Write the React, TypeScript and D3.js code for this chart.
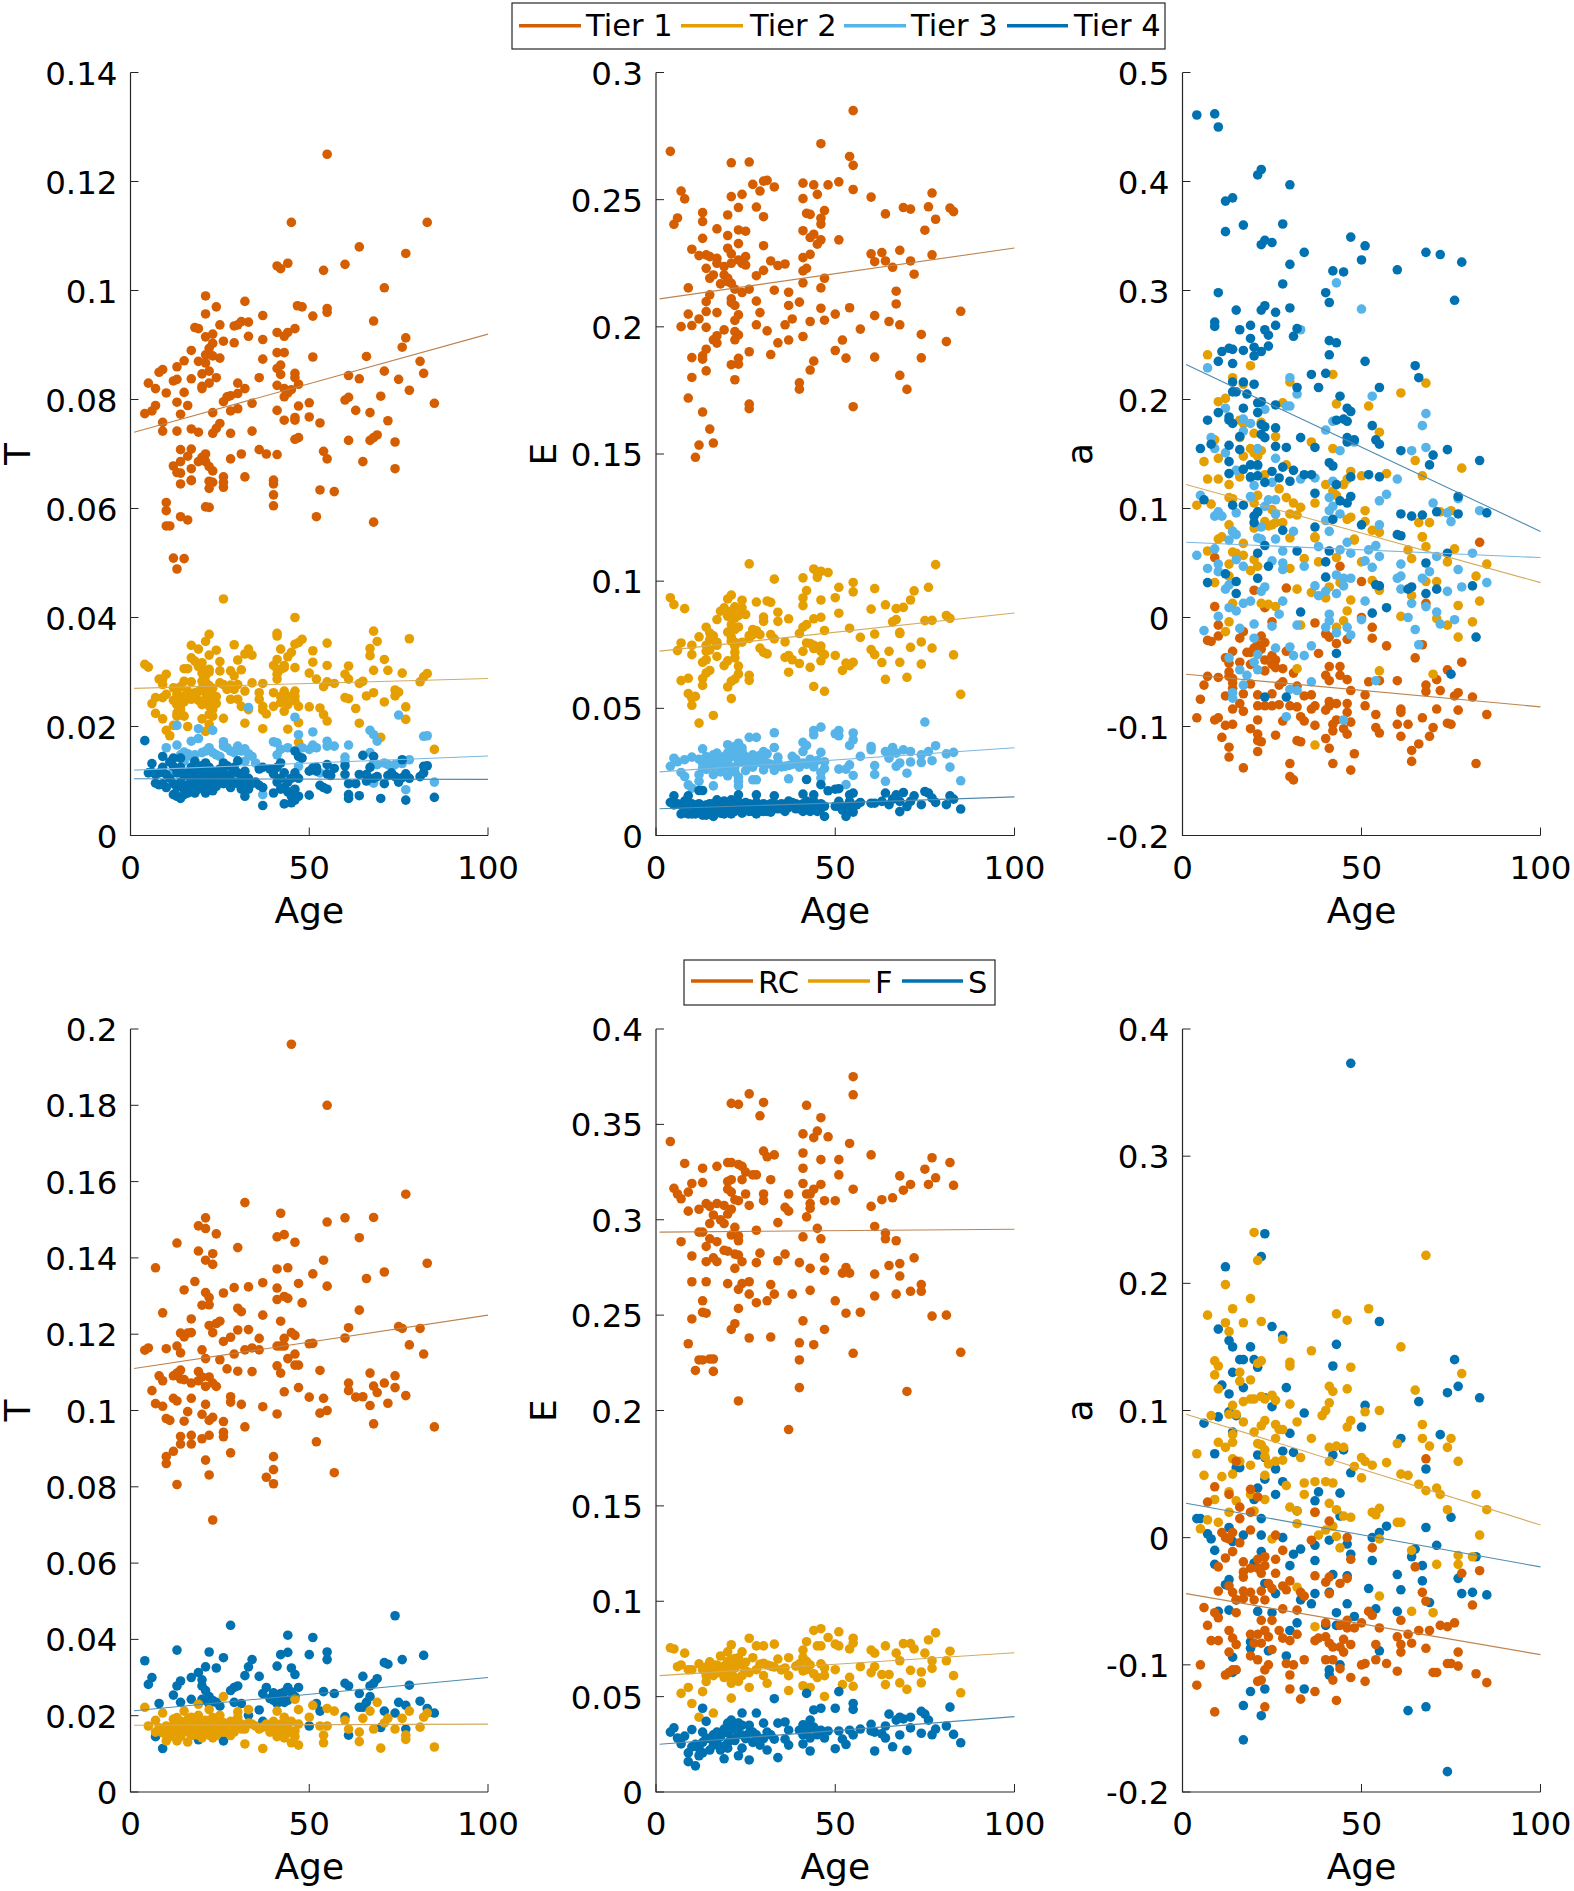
import React from "react";
import * as d3 from "d3";

type P = number[];
const tier1T: P[] = [[55,.125],[45,.1125],[83,.1125],[64,.108],[77,.1068],[44,.105],[41,.1045],[42,.104],[60,.1048],[54,.1037],[71,.1005],[21,.099],[32,.098],[24,.097],[46.7,.0972],[48,.097],[55,.0967],[55,.096],[21,.0957],[37,.0954],[51,.0953],[68,.0944],[25,.0937],[18,.0932],[19,.093],[29,.0935],[30,.0937],[31,.0943],[33,.0942],[46,.093],[44,.0923],[41,.0923],[43,.0916],[21,.0915],[23,.092],[33,.0916],[37,.091],[77,.0913],[26,.0907],[29,.0904],[23,.0903],[22,.0894],[17,.089],[21,.0882],[76,.0896],[41,.0886],[43,.0886],[51,.0878],[66,.0879],[25,.0876],[23,.088],[37,.0874],[15,.0871],[19,.087],[21,.0867],[81,.087],[42,.0863],[41,.0857],[13,.086],[9,.0855],[8,.085],[22,.0852],[20,.0847],[46,.0848],[82,.0848],[71,.0852],[42,.0846],[61,.0844],[24,.084],[17,.0838],[13,.0837],[12,.0834],[36,.084],[46,.084],[64,.0838],[75,.0837],[5,.083],[22,.083],[30,.083],[20,.0824],[47,.0828],[7,.082],[41,.0826],[20,.082],[32,.082],[43,.082],[45,.0818],[15,.0813],[10,.0812],[78,.0817],[44,.0812],[30,.0811],[28,.0807],[27,.0805],[43,.0805],[70,.0806],[61,.0804],[60,.0799],[26,.0796],[13,.0795],[50,.0794],[34,.0793],[85,.0793],[7,.0789],[16,.0789],[47,.0788],[6,.0779],[4,.0774],[30,.0783],[28,.0779],[41,.078],[63,.078],[23,.0776],[14,.0773],[67,.0776],[50,.0768],[46,.0767],[46,.0762],[43,.0762],[72,.0761],[53,.0757],[9,.0758],[9,.0742],[13,.0742],[25,.0756],[24,.0747],[23,.0738],[17,.0746],[19,.074],[28,.0738],[34,.0742],[47,.073],[46,.0727],[69,.0735],[68,.073],[67,.0725],[61,.0725],[74,.0722],[14,.0708],[17,.0709],[36,.0708],[38,.07],[54,.0705],[41,.0699],[31,.07],[21,.07],[16,.0696],[20,.0694],[55,.0691],[28,.0691],[19,.0686],[14,.0686],[65,.0686],[21,.0686],[12,.0678],[22,.0677],[17,.0673],[13,.0666],[14,.0665],[74,.0673],[23,.0669],[26,.0658],[32,.0658],[40,.0652],[17,.0652],[22,.065],[14,.0645],[17,.0651],[22,.0637],[23,.0648],[26,.0639],[26,.0648],[40,.0645],[40,.0625],[40,.0605],[53,.0634],[57,.0631],[10,.0611],[10,.0596],[21,.0603],[22,.0602],[10,.0568],[11,.0568],[14,.0585],[16,.0579],[52,.0585],[68,.0575],[12,.0509],[15,.0508],[13,.0489]];
const tier2T: P[] = [[26,.0434],[46,.04],[68,.0375],[41,.0371],[41,.0366],[22,.0369],[78,.0361],[48,.036],[69,.0356],[47,.0354],[55,.0353],[46,.0351],[29,.035],[21,.0356],[17,.0349],[19,.0342],[42,.0342],[24,.034],[51,.0339],[45,.0336],[67,.0343],[33,.0342],[32,.0333],[34,.0331],[22,.0331],[44,.0328],[67,.033],[17,.0326],[30,.0322],[71,.0323],[41,.0323],[51,.0318],[18,.032],[25,.0319],[4,.0314],[5,.0309],[55,.0312],[61,.0311],[20,.0317],[40,.0312],[43,.0308],[46,.0308],[41,.0305],[15,.0306],[16,.0306],[25,.0302],[22,.0305],[21,.0302],[31,.0304],[28,.0302],[68,.0303],[72,.0303],[76,.0298],[50,.0298],[41,.0296],[10,.0296],[60,.0296],[83,.0297],[21,.0293],[29,.0293],[82,.0291],[41,.0287],[9,.0287],[20,.0283],[52,.0287],[61,.0287],[8,.0287],[17,.0282],[15,.0283],[65,.0283],[81,.0282],[57,.0279],[55,.0282],[34,.028],[37,.0279],[9,.0277],[26,.0277],[28,.0276],[30,.0277],[64,.0279],[54,.0273],[12,.0271],[14,.0273],[27,.0268],[32,.0265],[74,.0267],[75,.0263],[21,.0262],[19,.0264],[43,.0265],[40,.0262],[46,.0265],[36,.0262],[68,.0262],[13,.0259],[74,.0256],[66,.0256],[10,.0259],[45,.0256],[15,.0256],[22,.0256],[60,.0253],[61,.0251],[9,.0253],[12,.0248],[17,.025],[28,.025],[30,.025],[36,.025],[23,.0247],[43,.025],[7,.0253],[46,.0247],[71,.0245],[6,.0242],[13,.024],[24,.0242],[20,.024],[31,.0237],[42,.0244],[37,.0237],[40,.0237],[47,.0237],[50,.0236],[77,.0236],[53,.0234],[63,.0233],[14,.0231],[23,.0231],[43,.0228],[37,.023],[33,.0231],[7,.0224],[54,.0222],[38,.0223],[13,.0219],[15,.0219],[23,.0219],[55,.021],[20,.0214],[26,.0215],[9,.0214],[77,.0213],[47,.0207],[32,.0206],[64,.0206],[16,.02],[22,.0204],[12,.0202],[37,.0196],[44,.0195],[10,.0193],[21,.0191],[11,.0183],[70,.018],[47,.0171],[85,.0158],[13,.024],[14,.025],[13,.0225],[14,.0222],[22,.0222],[22,.0238],[21,.0272],[21,.0282],[20,.0298],[19,.031],[22,.03],[13,.0265],[14,.0238],[15,.0245],[16,.0265],[18,.0262],[19,.0248],[20,.027],[21,.025],[22,.0275],[23,.027],[24,.0255],[25,.028],[29,.0268],[42,.0305],[42,.0255],[44,.024],[46,.0255],[43,.0312]];
const tier3T: P[] = [[33,.0235],[46,.0217],[75,.0221],[13,.0202],[19,.0196],[23,.0193],[51,.019],[67,.0193],[68,.0185],[47,.0185],[69,.0173],[82,.0182],[83,.0183],[17,.0173],[19,.0178],[10,.0161],[13,.0166],[26,.0172],[26,.0164],[40,.0172],[41,.017],[55,.0173],[55,.0164],[57,.0164],[61,.0166],[51,.0166],[52,.0161],[50,.0158],[48,.0161],[44,.0161],[42,.0158],[22,.0161],[27,.0161],[30,.0164],[32,.0159],[28,.0155],[29,.0152],[31,.0155],[15,.0153],[20,.0152],[21,.0155],[33,.015],[17,.0145],[60,.0144],[41,.0148],[67,.0152],[78,.0139],[71,.0133],[74,.013],[76,.0132],[72,.013],[60,.0136],[32,.0136],[15,.0136],[35,.0133],[47,.0127],[68,.0133],[12,.0121],[53,.0115],[85,.0098],[68,.0096],[37,.0075],[77,.0084],[45,.0081],[69,.013],[16,.015],[18,.0148],[23,.0152],[24,.0148],[25,.0145],[34,.0145],[14,.0148]];
const tier4T: P[] = [[4,.0174],[46,.0155],[47,.0145],[48,.0142],[65,.0147],[68,.0145],[76,.0139],[6,.0132],[9,.0145],[12,.0142],[14,.0142],[18,.0136],[21,.0133],[26,.0133],[30,.0137],[42,.0133],[60,.0128],[55,.013],[57,.0123],[83,.0128],[82,.0127],[51,.0124],[50,.0118],[5,.0115],[6,.0116],[7,.0112],[7,.0096],[8,.0115],[8,.0093],[9,.0125],[9,.0095],[10,.0112],[10,.0088],[11,.0135],[11,.0105],[12,.0127],[12,.0075],[12,.0095],[13,.0115],[13,.0088],[13,.0072],[14,.0125],[14,.0098],[14,.0068],[15,.011],[15,.0085],[15,.0075],[16,.0115],[16,.0093],[16,.0078],[17,.0125],[17,.0103],[17,.0085],[18,.011],[18,.0092],[18,.0078],[19,.012],[19,.0098],[19,.0085],[20,.0128],[20,.0105],[20,.009],[21,.0115],[21,.0095],[21,.0078],[22,.0125],[22,.0105],[22,.0088],[23,.0118],[23,.0098],[23,.0082],[24,.0108],[24,.009],[25,.0122],[25,.01],[26,.0115],[26,.0095],[27,.0128],[27,.0103],[28,.0112],[28,.0088],[29,.0125],[29,.0098],[30,.0115],[30,.0095],[31,.0108],[31,.0085],[32,.0118],[32,.0095],[32,.0072],[33,.0105],[33,.0085],[34,.0095],[35,.0098],[36,.0122],[36,.0092],[37,.0125],[37,.0088],[37,.0055],[39,.0122],[40,.0113],[40,.0078],[41,.0125],[41,.0098],[42,.0105],[42,.0085],[43,.0115],[43,.0088],[43,.0058],[44,.0098],[44,.008],[45,.0105],[45,.0072],[45,.006],[46,.0115],[46,.0085],[46,.0065],[47,.0105],[47,.0072],[50,.0074],[52,.0118],[52,.0125],[53,.0092],[54,.0088],[55,.0085],[55,.0113],[56,.011],[60,.0112],[61,.0095],[61,.0075],[61,.0068],[63,.0095],[64,.0112],[64,.0073],[66,.0112],[66,.01],[67,.0125],[68,.0105],[69,.0108],[70,.0068],[71,.0095],[72,.011],[73,.0115],[74,.0108],[75,.0098],[76,.0106],[77,.0113],[77,.0065],[78,.0105],[81,.0108],[82,.0115],[85,.007]];

const tier1E: P[] = [[55,.285],[46,.272],[4,.269],[54,.267],[55,.2635],[21,.2645],[26,.2648],[31,.2576],[30,.2573],[27,.256],[41,.2565],[44,.2558],[48,.2558],[51,.257],[33,.255],[29,.2534],[55,.254],[7,.2534],[8,.2503],[21,.2512],[24,.2521],[45,.2521],[41,.2504],[60,.251],[77,.2526],[28,.2471],[23,.2469],[69,.2469],[71,.2463],[76,.2472],[82,.2467],[83,.2453],[13,.2449],[20,.244],[42,.2446],[43,.2442],[47,.2457],[64,.2444],[30,.2433],[6,.2428],[5,.2403],[13,.2414],[46,.2427],[46,.2404],[78,.2423],[17,.2385],[23,.2381],[25,.2376],[41,.2378],[75,.238],[44,.2364],[20,.2359],[43,.2351],[46,.2342],[51,.2342],[13,.2348],[45,.2325],[23,.2327],[30,.2319],[20,.2309],[10,.2305],[68,.2301],[60,.2287],[63,.2292],[43,.2285],[77,.2283],[12,.228],[14,.2283],[15,.2276],[17,.2269],[21,.2287],[25,.2276],[41,.2272],[23,.2263],[61,.2256],[64,.2259],[71,.2259],[32,.2259],[17,.225],[21,.225],[24,.225],[25,.2243],[34,.2241],[36,.2247],[66,.2234],[19,.2237],[14,.223],[42,.223],[41,.222],[30,.2222],[16,.2204],[15,.2191],[19,.2204],[28,.2201],[72,.2207],[47,.2191],[20,.2191],[20,.2178],[18,.2169],[21,.2171],[41,.2173],[46,.2153],[9,.2153],[22,.2148],[26,.2148],[33,.2144],[24,.2135],[37,.2136],[15,.2126],[67,.214],[21,.211],[14,.2099],[28,.2101],[40,.2097],[21,.2095],[67,.209],[22,.2084],[37,.2084],[46,.2073],[54,.2075],[14,.206],[17,.2056],[29,.2056],[9,.205],[23,.2047],[50,.205],[61,.2044],[85,.2061],[12,.2031],[22,.2025],[38,.2031],[43,.2021],[47,.2026],[65,.2021],[7,.2001],[10,.2005],[14,.1998],[28,.2008],[36,.2008],[68,.2008],[19,.1988],[31,.1984],[57,.1991],[22,.1981],[23,.1968],[17,.1965],[41,.1962],[74,.197],[22,.1949],[16,.1949],[37,.1948],[52,.1948],[81,.1942],[17,.1936],[34,.1937],[14,.1912],[26,.1902],[50,.1907],[13,.1886],[32,.1891],[10,.1879],[61,.1881],[53,.1877],[13,.1873],[74,.1878],[23,.1876],[44,.1865],[21,.1851],[23,.1853],[14,.1827],[43,.183],[10,.1801],[68,.1809],[22,.1792],[40,.178],[40,.1755],[70,.1754],[9,.172],[26,.1696],[26,.1678],[55,.1686],[13,.1665],[15,.1598],[12,.1535],[16,.1543],[11,.1487]];
const tier2E: P[] = [[26,.1068],[78,.1065],[44,.1048],[45,.1033],[46,.1039],[48,.1034],[45,.1015],[33,.1008],[41,.1013],[55,.0995],[51,.0976],[55,.0958],[61,.0971],[76,.0976],[42,.0963],[72,.0962],[21,.0945],[20,.093],[4,.0935],[41,.0934],[50,.0935],[24,.0925],[28,.0918],[31,.0922],[32,.0917],[46,.0926],[71,.0926],[5,.0908],[41,.0904],[64,.0907],[8,.0892],[67,.0892],[69,.0897],[60,.089],[19,.0895],[22,.0899],[24,.0895],[18,.0882],[21,.0882],[34,.0878],[51,.0874],[25,.0869],[23,.0865],[17,.0849],[20,.0862],[22,.0855],[30,.0859],[37,.0852],[44,.0852],[46,.0858],[81,.0865],[82,.0854],[34,.0842],[30,.0842],[67,.0849],[66,.084],[75,.0845],[77,.0846],[21,.0829],[14,.0819],[42,.0829],[41,.0819],[54,.0815],[47,.0806],[22,.081],[27,.081],[40,.0794],[68,.0799],[61,.0792],[15,.0796],[29,.079],[26,.0786],[32,.079],[12,.0781],[33,.0773],[57,.0779],[68,.0794],[16,.0768],[21,.0764],[24,.076],[7,.0757],[36,.0761],[42,.0757],[74,.0761],[10,.0748],[14,.0748],[17,.0748],[22,.0744],[44,.0748],[71,.074],[77,.0737],[29,.0737],[6,.0727],[14,.0724],[60,.0731],[41,.0724],[22,.072],[30,.072],[46,.0724],[65,.0724],[61,.0711],[10,.0711],[31,.0714],[50,.0708],[83,.071],[17,.0704],[36,.07],[37,.0708],[47,.0711],[14,.0691],[22,.0698],[38,.0691],[20,.0687],[46,.0687],[55,.0681],[68,.0681],[63,.068],[23,.0666],[40,.0676],[13,.0681],[53,.0678],[19,.0668],[74,.0674],[43,.0661],[54,.0668],[15,.0649],[52,.0649],[37,.0642],[23,.0635],[14,.0639],[26,.063],[70,.0622],[9,.0618],[64,.0614],[7,.0609],[13,.0617],[22,.0615],[26,.061],[21,.0606],[13,.059],[20,.0584],[44,.0586],[47,.0567],[9,.0558],[11,.0547],[85,.0555],[21,.0538],[10,.054],[10,.0512],[16,.0472],[12,.0442],[15,.077],[16,.0785],[17,.076],[15,.073],[21,.078],[22,.076],[23,.082],[20,.08],[43,.0755],[44,.0735],[45,.074],[46,.0745],[26,.0775],[27,.079],[28,.0805]];
const tier3E: P[] = [[75,.0446],[46,.0426],[44,.0413],[44,.0396],[33,.0404],[51,.0413],[50,.04],[51,.0392],[55,.0403],[55,.0376],[54,.0354],[26,.0386],[28,.0386],[41,.0366],[42,.0354],[78,.0353],[60,.035],[60,.0337],[20,.0357],[23,.0363],[21,.0344],[22,.035],[24,.0344],[13,.0341],[33,.0346],[66,.0346],[64,.033],[69,.0337],[71,.033],[76,.033],[81,.0321],[83,.0327],[46,.0327],[41,.033],[66,.0328],[31,.0321],[67,.0324],[74,.0317],[27,.0317],[17,.0324],[57,.0311],[16,.0317],[34,.0308],[38,.0311],[10,.0308],[5,.0304],[8,.0298],[65,.0304],[43,.03],[45,.0295],[77,.0294],[71,.0289],[74,.0287],[23,.0291],[20,.0287],[29,.0287],[34,.0287],[13,.0285],[61,.0275],[54,.0278],[68,.0285],[67,.0272],[82,.0269],[4,.0272],[40,.0269],[16,.0272],[19,.0269],[22,.0269],[36,.0272],[27,.0269],[47,.0264],[51,.0261],[53,.0261],[30,.0258],[33,.0256],[7,.0248],[70,.0245],[61,.024],[46,.0248],[55,.0236],[12,.0239],[16,.0239],[20,.0235],[23,.023],[8,.0232],[37,.0223],[46,.0226],[27,.0219],[28,.0219],[64,.0213],[85,.0215],[12,.0213],[23,.0213],[9,.0199],[16,.0195],[53,.02],[23,.0195],[10,.0186],[6,.029],[12,.03],[14,.031],[15,.029],[18,.03],[21,.031],[24,.029],[25,.031],[26,.028],[28,.03],[30,.03],[32,.028],[35,.027],[38,.028],[39,.03],[42,.028],[44,.027],[14,.026],[18,.025],[21,.026],[22,.025],[13,.0265],[17,.0285],[19,.031],[20,.0325],[22,.0325],[23,.0315],[24,.033],[25,.0255],[26,.0305],[29,.0315],[30,.033],[31,.0285],[37,.0275],[41,.0285],[47,.029]];
const tier4E: P[] = [[42,.022],[46,.02],[48,.0176],[50,.0182],[51,.0184],[12,.0177],[13,.0177],[55,.0167],[54,.016],[5,.0156],[75,.0173],[76,.0167],[64,.0167],[69,.0169],[67,.016],[23,.016],[41,.0163],[44,.016],[33,.0156],[28,.016],[9,.0156],[72,.0156],[77,.0147],[82,.0156],[83,.0143],[78,.013],[57,.013],[60,.0127],[61,.0127],[63,.0134],[51,.0134],[54,.0134],[68,.0134],[71,.0134],[66,.0143],[74,.0121],[81,.0121],[65,.0121],[70,.0114],[68,.0094],[55,.0092],[53,.0075],[54,.0101],[85,.0104],[47,.0075],[4,.013],[5,.012],[6,.0125],[7,.0085],[7,.012],[8,.009],[8,.0135],[9,.0085],[9,.012],[10,.0085],[10,.0125],[11,.0085],[12,.0125],[12,.0095],[13,.008],[14,.012],[14,.01],[14,.008],[15,.0125],[15,.009],[16,.0075],[16,.0105],[17,.014],[17,.01],[18,.0125],[18,.0088],[19,.0135],[19,.0105],[19,.0085],[20,.0125],[20,.0095],[21,.014],[21,.0108],[21,.0085],[22,.0125],[22,.0095],[23,.013],[23,.01],[24,.012],[24,.0088],[25,.013],[25,.0098],[26,.0125],[26,.0095],[27,.0115],[28,.0085],[28,.013],[29,.0115],[30,.0125],[30,.0095],[31,.0115],[32,.0125],[32,.0092],[33,.0125],[34,.0105],[35,.0125],[36,.0115],[36,.0095],[37,.0135],[38,.013],[39,.0125],[40,.0105],[41,.0125],[41,.0095],[42,.0135],[42,.011],[43,.0125],[43,.0095],[44,.0135],[45,.0115],[45,.0095],[46,.0125],[47,.0115],[50,.0115],[51,.0115],[52,.01],[53,.0115],[55,.0115],[56,.012],[11,.011],[13,.0105],[15,.0105],[16,.0125],[18,.0105],[20,.011],[22,.011],[24,.0105],[27,.0095],[29,.0095],[31,.0095],[33,.0105],[35,.0105],[37,.011],[39,.0105],[44,.0115],[46,.0105]];

const tier1A: P[] = [[83,.069],[9,.055],[44,.047],[50,.033],[29,.027],[20,.025],[9,.01],[68,.013],[23,.009],[50,0],[10,-.007],[37,-.005],[53,-.009],[25,-.004],[10,-.017],[17,-.013],[16,-.019],[7,-.021],[8,-.022],[22,-.017],[40,-.015],[41,-.018],[53,-.019],[46,-.02],[43,-.024],[57,-.026],[67,-.025],[23,-.023],[21,-.025],[20,-.028],[19,-.032],[18,-.032],[14,-.031],[29,-.031],[38,-.033],[22,-.029],[25,-.035],[12,-.037],[13,-.042],[16,-.041],[23,-.039],[26,-.039],[65,-.037],[19,-.043],[25,-.043],[41,-.045],[44,-.045],[78,-.041],[23,-.049],[26,-.046],[28,-.047],[31,-.051],[13,-.05],[74,-.048],[7,-.054],[10,-.055],[13,-.054],[14,-.056],[40,-.053],[44,-.053],[46,-.057],[71,-.057],[68,-.062],[14,-.06],[19,-.061],[41,-.058],[52,-.059],[55,-.058],[60,-.058],[28,-.059],[27,-.062],[6,-.062],[14,-.065],[32,-.063],[47,-.067],[72,-.067],[68,-.068],[12,-.072],[17,-.07],[21,-.071],[25,-.07],[34,-.072],[36,-.071],[51,-.071],[77,-.069],[76,-.072],[81,-.073],[5,-.075],[16,-.079],[46,-.079],[41,-.077],[43,-.079],[21,-.081],[23,-.081],[25,-.081],[27,-.08],[30,-.081],[32,-.082],[37,-.081],[36,-.084],[40,-.085],[41,-.081],[51,-.081],[14,-.084],[17,-.086],[46,-.087],[61,-.084],[71,-.084],[77,-.085],[54,-.089],[61,-.087],[4,-.092],[85,-.089],[10,-.092],[33,-.091],[9,-.094],[34,-.095],[21,-.094],[43,-.094],[67,-.092],[28,-.095],[47,-.096],[12,-.099],[14,-.098],[42,-.098],[37,-.099],[60,-.098],[63,-.098],[74,-.097],[75,-.098],[70,-.101],[19,-.102],[42,-.104],[45,-.102],[54,-.101],[55,-.106],[21,-.107],[46,-.107],[11,-.11],[26,-.108],[61,-.109],[40,-.111],[69,-.109],[21,-.113],[22,-.114],[32,-.113],[33,-.114],[66,-.116],[13,-.119],[41,-.12],[21,-.123],[64,-.122],[48,-.125],[13,-.128],[64,-.132],[30,-.134],[42,-.134],[82,-.134],[17,-.138],[47,-.14],[30,-.146],[31,-.149]];
const tier2A: P[] = [[7,.241],[19,.231],[14,.22],[42,.223],[30,.216],[68,.215],[17,.214],[61,.206],[12,.201],[10,.198],[28,.197],[43,.196],[52,.194],[16,.181],[17,.178],[22,.179],[20,.169],[55,.17],[9,.163],[26,.166],[36,.161],[16,.165],[42,.155],[19,.155],[20,.151],[22,.153],[21,.148],[17,.148],[10,.146],[65,.144],[6,.143],[78,.137],[29,.14],[47,.134],[50,.13],[57,.132],[7,.127],[10,.127],[16,.129],[23,.131],[67,.13],[46,.127],[13,.122],[40,.122],[45,.122],[27,.118],[42,.116],[43,.112],[21,.112],[29,.11],[13,.11],[14,.109],[8,.104],[4,.103],[37,.105],[31,.105],[33,.101],[20,.105],[51,.098],[25,.099],[26,.095],[30,.095],[32,.094],[75,.098],[72,.097],[47,.092],[46,.09],[66,.087],[69,.087],[23,.088],[13,.085],[25,.085],[28,.087],[26,.087],[51,.088],[24,.084],[20,.082],[53,.08],[55,.078],[11,.074],[67,.074],[37,.074],[30,.073],[48,.072],[10,.072],[37,.073],[67,.074],[48,.071],[68,.065],[7,.061],[17,.068],[76,.063],[63,.062],[14,.06],[15,.059],[17,.057],[13,.049],[20,.053],[34,.054],[43,.055],[64,.054],[21,.047],[38,.051],[85,.049],[74,.051],[19,.043],[50,.051],[30,.045],[13,.038],[82,.038],[9,.032],[53,.034],[68,.033],[71,.033],[44,.032],[32,.026],[41,.028],[55,.025],[36,.023],[40,.018],[64,.02],[47,.016],[22,.013],[24,.012],[26,.01],[14,.013],[83,.015],[77,.011],[46,.006],[45,-.003],[61,.001],[13,-.004],[71,-.001],[33,-.007],[74,-.007],[81,-.004],[43,-.009],[12,-.013],[77,-.018],[70,-.052],[32,-.047],[55,-.049],[37,-.117]];
const tier3A: P[] = [[43,.307],[50,.283],[33,.264],[7,.229],[30,.22],[32,.205],[53,.203],[12,.192],[23,.191],[29,.194],[30,.194],[68,.187],[17,.182],[19,.178],[42,.18],[67,.176],[40,.172],[17,.171],[8,.165],[48,.161],[9,.155],[21,.155],[44,.153],[64,.153],[68,.156],[12,.151],[26,.146],[15,.135],[21,.139],[33,.127],[37,.128],[60,.127],[19,.128],[42,.125],[25,.124],[20,.121],[19,.111],[5,.112],[57,.113],[41,.11],[24,.108],[26,.108],[55,.107],[23,.102],[42,.102],[70,.105],[41,.098],[15,.096],[10,.097],[9,.093],[11,.093],[44,.095],[74,.096],[83,.098],[77,.109],[21,.097],[26,.095],[40,.089],[75,.088],[22,.083],[55,.085],[31,.079],[41,.079],[14,.079],[15,.076],[14,.079],[21,.073],[13,.071],[46,.069],[26,.072],[22,.072],[54,.066],[52,.062],[9,.063],[38,.065],[44,.062],[28,.061],[47,.059],[4,.057],[81,.059],[55,.056],[71,.056],[15,.053],[51,.052],[25,.052],[61,.049],[10,.049],[28,.05],[17,.047],[34,.047],[7,.045],[53,.046],[28,.044],[77,.044],[10,.042],[69,.042],[43,.039],[60,.036],[61,.038],[67,.036],[47,.036],[45,.036],[13,.03],[85,.032],[37,.029],[23,.028],[12,.026],[78,.028],[45,.029],[22,.024],[74,.024],[40,.024],[43,.022],[38,.02],[61,.026],[17,.013],[51,.015],[19,.015],[28,.015],[64,.013],[68,.01],[13,.009],[15,.006],[71,.005],[27,.003],[10,.001],[41,.003],[63,0],[50,-.002],[76,-.002],[20,-.006],[41,-.003],[32,-.007],[25,-.008],[40,-.009],[16,-.01],[6,-.012],[72,-.006],[46,-.009],[65,-.011],[43,-.014],[47,-.016],[20,-.019],[36,-.026],[30,-.027],[26,-.028],[66,-.025],[31,-.035],[34,-.035],[13,-.037],[21,-.034],[20,-.041],[21,-.048],[16,-.048],[18,-.053],[36,-.059],[54,-.058],[17,-.062],[30,-.066],[32,-.067],[14,-.069],[14,-.074],[29,-.091],[45,-.094]];
const tier4A: P[] = [[4,.461],[9,.462],[10,.45],[22,.411],[21,.406],[30,.397],[14,.385],[12,.382],[28,.361],[17,.36],[12,.354],[47,.349],[23,.346],[25,.344],[22,.342],[51,.341],[34,.335],[68,.335],[72,.333],[78,.326],[50,.328],[30,.324],[42,.318],[45,.317],[60,.319],[28,.306],[40,.298],[10,.298],[76,.291],[41,.289],[23,.286],[22,.282],[15,.282],[30,.284],[26,.28],[9,.271],[9,.267],[19,.268],[26,.268],[16,.264],[23,.264],[32,.265],[24,.259],[31,.258],[19,.256],[41,.254],[43,.252],[20,.248],[24,.249],[13,.247],[11,.244],[14,.246],[17,.245],[22,.244],[20,.24],[41,.241],[10,.235],[51,.235],[14,.233],[65,.231],[40,.224],[36,.223],[66,.22],[14,.216],[17,.216],[20,.214],[32,.211],[38,.211],[55,.211],[15,.207],[14,.207],[18,.205],[44,.203],[21,.197],[22,.198],[26,.195],[17,.192],[46,.192],[47,.189],[10,.188],[21,.188],[13,.184],[7,.181],[13,.181],[43,.181],[45,.182],[46,.18],[14,.178],[22,.177],[23,.175],[53,.176],[26,.174],[22,.168],[16,.166],[23,.165],[33,.165],[46,.165],[48,.163],[46,.161],[54,.163],[55,.159],[8,.159],[13,.158],[26,.157],[5,.155],[16,.154],[29,.156],[37,.156],[61,.153],[74,.154],[70,.149],[13,.143],[41,.142],[42,.139],[69,.14],[83,.144],[19,.14],[21,.14],[28,.138],[17,.136],[31,.135],[25,.134],[13,.132],[19,.129],[21,.13],[34,.131],[36,.131],[47,.129],[52,.131],[55,.129],[27,.128],[30,.125],[23,.124],[43,.122],[37,.114],[77,.111],[47,.111],[44,.107],[46,.105],[6,.108],[14,.103],[17,.103],[21,.097],[20,.093],[20,.087],[61,.095],[64,.093],[67,.094],[71,.097],[77,.095],[85,.096],[42,.09],[50,.085],[37,.083],[28,.08],[60,.076],[61,.075],[23,.066],[32,.061],[21,.059],[74,.059],[41,.061],[40,.051],[24,.047],[68,.05],[40,.037],[12,.04],[21,.036],[15,.033],[7,.032],[54,.03],[55,.029],[64,.028],[63,.026],[71,.026],[81,.029],[68,.022],[15,.022],[33,.005],[57,.009],[53,.004],[43,-.033],[82,-.018],[75,-.052],[23,-.073],[29,-.073]];

const rcT: P[] = [[45,.196],[55,.18],[77,.1567],[32,.1545],[42,.1517],[21,.1505],[60,.1505],[68,.1506],[55,.1494],[19,.1484],[21,.1477],[24,.1463],[41,.1455],[43,.1461],[64,.1453],[13,.1439],[46,.1441],[30,.1427],[19,.1418],[23,.1411],[21,.1394],[54,.1394],[23,.1383],[83,.1386],[7,.1374],[41,.1371],[44,.1374],[71,.1363],[51,.1358],[66,.1346],[18,.1338],[37,.1335],[47,.1333],[29,.1322],[33,.1324],[41,.1321],[55,.1326],[15,.1316],[21,.1309],[26,.1308],[22,.1296],[43,.1299],[41,.1291],[44,.1294],[20,.1276],[22,.1277],[48,.1282],[30,.1268],[31,.1259],[64,.1263],[9,.1256],[37,.125],[17,.124],[25,.1234],[42,.1234],[22,.1223],[24,.1228],[33,.1212],[61,.1217],[75,.122],[76,.1215],[81,.1215],[14,.1203],[16,.1203],[17,.1204],[30,.1211],[45,.1204],[15,.1193],[23,.1204],[28,.1192],[36,.1189],[43,.1189],[46,.1197],[60,.119],[26,.1181],[42,.1169],[50,.1175],[51,.1176],[43,.1169],[41,.1169],[78,.1172],[4,.1158],[5,.1164],[10,.1162],[13,.1169],[20,.1159],[32,.1159],[34,.1164],[36,.1159],[14,.1151],[29,.1148],[46,.1148],[21,.1136],[25,.1133],[44,.1136],[82,.1148],[41,.1117],[47,.1119],[46,.1119],[27,.1109],[42,.1098],[30,.1103],[34,.1102],[53,.1105],[14,.1106],[67,.1098],[13,.1098],[12,.1091],[19,.1102],[8,.1091],[20,.1088],[74,.1091],[22,.1088],[14,.1083],[15,.1081],[9,.1078],[17,.1072],[19,.1078],[23,.1072],[61,.1072],[71,.1072],[24,.1063],[21,.1063],[47,.106],[68,.1064],[74,.106],[43,.1049],[61,.1052],[69,.1047],[6,.1052],[63,.1035],[65,.1036],[50,.1035],[54,.1032],[77,.1039],[12,.1032],[13,.1025],[17,.1032],[28,.1036],[28,.1022],[31,.1016],[7,.1018],[9,.1011],[21,.1016],[37,.101],[72,.1019],[67,.1013],[16,.0997],[55,.1],[53,.0993],[41,.0991],[20,.099],[10,.0979],[11,.0974],[23,.0982],[22,.0974],[15,.0972],[26,.0971],[68,.0965],[32,.0957],[85,.0957],[26,.0943],[22,.0935],[20,.0926],[14,.0932],[17,.0935],[26,.0931],[52,.0918],[14,.0912],[17,.0912],[12,.0893],[28,.0889],[40,.0879],[10,.0879],[21,.087],[10,.0861],[40,.0845],[22,.0831],[57,.0837],[38,.0825],[40,.0808],[13,.0806],[23,.0713]];
const fT: P[] = [[4,.0222],[26,.025],[46,.0243],[69,.0235],[19,.023],[51,.0227],[22,.0216],[15,.0212],[9,.0207],[25,.0201],[30,.021],[33,.0216],[55,.0219],[57,.0212],[67,.0212],[78,.0212],[47,.0216],[83,.0207],[41,.0212],[12,.0191],[17,.0196],[19,.0201],[72,.0193],[65,.0193],[60,.0188],[50,.0196],[43,.0196],[82,.0196],[76,.0193],[7,.0188],[14,.0185],[21,.0188],[28,.0185],[33,.0181],[40,.0185],[71,.0181],[47,.0178],[5,.0173],[10,.0173],[16,.0173],[23,.0173],[30,.0173],[37,.017],[44,.0173],[53,.0173],[55,.0173],[61,.0165],[68,.0165],[74,.0165],[81,.017],[7,.0157],[12,.0157],[19,.0149],[22,.0149],[26,.0157],[42,.0157],[46,.016],[54,.0149],[64,.0157],[77,.0149],[10,.0134],[13,.0134],[16,.0131],[20,.0142],[23,.0142],[32,.0126],[45,.0129],[47,.0123],[54,.0129],[64,.0132],[77,.0138],[37,.0114],[70,.0115],[85,.0118],[11,.0165],[15,.0157],[18,.0165],[20,.0165],[24,.0165],[27,.0173],[29,.0157],[35,.0173],[36,.0165],[39,.0157],[41,.0165],[43,.0142],[8,.0168],[9,.0155],[11,.0145],[14,.0145],[17,.0148],[18,.0182],[21,.0155],[22,.0178],[24,.0148],[25,.0178],[28,.0165],[31,.0178],[31,.0165],[34,.0178],[41,.0145],[44,.0155],[12,.0175],[13,.0195],[14,.0165],[15,.0178],[16,.019],[17,.0165],[18,.015],[19,.0175],[20,.0185],[21,.0172],[22,.016],[23,.0195],[24,.0182],[26,.0182],[27,.0158],[28,.0148],[29,.0182],[30,.0195],[32,.0165],[38,.0178],[40,.0172],[42,.0178],[43,.0175],[45,.0185],[46,.0145]];
const sT: P[] = [[74,.0462],[28,.0437],[44,.0411],[51,.0405],[22,.0367],[13,.0372],[44,.0366],[42,.036],[50,.036],[55,.0367],[55,.0347],[82,.0358],[4,.0344],[26,.0352],[76,.0347],[34,.0347],[71,.0339],[72,.0335],[21,.0328],[33,.0328],[41,.033],[24,.0325],[45,.0325],[19,.0313],[32,.0305],[46,.0308],[65,.0303],[6,.03],[17,.03],[36,.0303],[20,.0294],[14,.0291],[69,.0297],[13,.0278],[5,.0282],[60,.0285],[61,.0278],[78,.028],[20,.0278],[68,.0285],[67,.0278],[30,.0278],[38,.0274],[28,.0266],[44,.0274],[47,.0274],[21,.0266],[29,.0274],[12,.0254],[37,.0258],[57,.0258],[64,.0258],[54,.0263],[42,.0258],[22,.025],[17,.0243],[20,.0243],[46,.025],[67,.025],[14,.0235],[8,.0232],[31,.0232],[66,.0235],[41,.0232],[43,.0235],[75,.0235],[81,.0238],[52,.0232],[77,.0227],[64,.0222],[65,.0222],[83,.0219],[36,.0215],[53,.0212],[71,.0212],[74,.0207],[85,.0207],[60,.0197],[33,.0201],[37,.0185],[70,.0169],[50,.0173],[77,.0165],[7,.0145],[19,.0137],[26,.0134],[61,.0149],[9,.0114],[41,.025],[42,.0245],[44,.024],[40,.026],[21,.024],[22,.023],[23,.024],[24,.0235],[25,.0225],[29,.0235],[39,.0245],[40,.024],[43,.0262],[45,.0262]];

const rcE: P[] = [[55,.375],[55,.3655],[26,.366],[30,.3615],[21,.361],[23,.3605],[42,.36],[29,.3545],[46,.3535],[45,.3465],[41,.345],[44,.343],[48,.3435],[4,.341],[54,.34],[30,.336],[33,.334],[41,.335],[60,.334],[31,.333],[77,.3325],[46,.3315],[51,.3315],[8,.3295],[20,.33],[21,.33],[82,.33],[13,.327],[17,.328],[23,.329],[24,.328],[41,.327],[75,.3265],[25,.325],[27,.3235],[28,.3235],[51,.3235],[68,.323],[20,.32],[21,.321],[24,.321],[32,.321],[78,.322],[10,.319],[13,.3195],[41,.319],[46,.3185],[76,.3185],[71,.3185],[83,.318],[5,.3165],[55,.316],[20,.316],[44,.316],[69,.3155],[9,.3145],[6,.3135],[21,.3145],[42,.3135],[43,.3135],[30,.3135],[37,.3135],[7,.311],[63,.3105],[66,.3115],[22,.3105],[47,.31],[50,.31],[30,.31],[25,.3135],[23,.31],[14,.3085],[17,.3085],[43,.3085],[26,.3075],[36,.3065],[60,.307],[15,.307],[19,.3075],[43,.306],[12,.3055],[37,.3045],[9,.3045],[21,.3055],[16,.3025],[20,.303],[42,.3015],[18,.3],[15,.298],[19,.298],[34,.2985],[22,.296],[61,.2965],[45,.2955],[28,.2945],[13,.2935],[12,.2935],[21,.292],[64,.293],[23,.2915],[41,.291],[64,.29],[46,.29],[15,.29],[17,.2885],[67,.289],[7,.2885],[23,.289],[14,.286],[19,.284],[20,.2835],[29,.2825],[36,.282],[22,.282],[10,.281],[23,.2815],[47,.28],[72,.28],[16,.28],[34,.2785],[14,.278],[17,.278],[40,.2775],[28,.2775],[68,.277],[24,.278],[65,.276],[43,.2745],[53,.275],[22,.2745],[47,.2735],[52,.272],[54,.272],[61,.2715],[68,.2705],[10,.2675],[14,.2675],[20,.2665],[26,.2675],[24,.2665],[32,.266],[74,.266],[23,.2635],[43,.263],[71,.2625],[74,.2625],[26,.261],[33,.261],[38,.261],[67,.261],[61,.26],[31,.2575],[28,.2565],[13,.2575],[50,.2575],[23,.2535],[13,.2515],[14,.251],[53,.251],[57,.2515],[77,.2495],[81,.25],[10,.248],[41,.247],[22,.2455],[21,.2425],[47,.2425],[32,.2385],[26,.238],[9,.235],[40,.2355],[44,.2345],[55,.23],[85,.2305],[16,.227],[12,.2265],[13,.2265],[15,.227],[40,.2265],[11,.221],[16,.2205],[40,.212],[70,.21],[23,.205],[37,.19]];
const fE: P[] = [[46,.0856],[44,.0847],[51,.084],[78,.0834],[48,.081],[26,.0806],[55,.0806],[42,.0788],[76,.0797],[21,.0772],[33,.0775],[28,.0766],[50,.0775],[51,.0766],[55,.0781],[69,.0778],[71,.0778],[4,.0756],[5,.075],[30,.0766],[45,.0766],[46,.0766],[60,.0744],[64,.0766],[72,.075],[54,.075],[8,.0728],[20,.0735],[24,.0735],[61,.0728],[75,.0728],[82,.0738],[41,.0744],[67,.0728],[18,.0713],[23,.0704],[37,.0704],[41,.0704],[27,.0704],[34,.0697],[21,.0694],[68,.0688],[77,.0688],[81,.0688],[7,.0666],[12,.0672],[15,.0682],[40,.0672],[6,.0657],[17,.0666],[43,.0666],[31,.0666],[20,.0657],[57,.0657],[46,.0672],[9,.0641],[10,.0641],[13,.0641],[22,.065],[28,.0641],[36,.065],[42,.0641],[47,.065],[50,.0641],[71,.0638],[77,.0648],[74,.0629],[16,.061],[20,.061],[60,.0626],[61,.0657],[63,.0616],[65,.0616],[26,.0626],[83,.061],[37,.061],[47,.061],[14,.061],[54,.0601],[64,.0563],[55,.0554],[14,.0579],[31,.057],[74,.0572],[68,.0572],[52,.0563],[21,.057],[26,.0548],[41,.0557],[43,.0548],[37,.0532],[70,.0538],[9,.0548],[7,.0517],[13,.0526],[47,.0501],[85,.052],[21,.0492],[10,.0464],[16,.0414],[12,.0392],[23,.058],[24,.061],[30,.061],[15,.065],[18,.063],[19,.066],[22,.07],[23,.067],[25,.068],[29,.067],[32,.066],[35,.064],[39,.066],[44,.062],[45,.06],[14,.0655],[16,.0665],[17,.0625],[19,.06],[20,.0685],[21,.0635],[22,.06],[24,.0665],[25,.0635],[30,.0675],[33,.0655],[41,.0635],[42,.0685]];
const sE: P[] = [[42,.0517],[51,.0526],[33,.0489],[13,.0439],[46,.0439],[44,.043],[50,.0439],[55,.0464],[55,.0433],[82,.0445],[28,.0414],[24,.0414],[65,.0408],[74,.0423],[75,.0408],[43,.0377],[14,.037],[68,.0392],[67,.0377],[69,.0383],[71,.0392],[76,.0377],[21,.0377],[23,.0361],[20,.0361],[30,.0361],[34,.0361],[36,.0367],[41,.0352],[60,.0355],[5,.0336],[4,.0314],[10,.0327],[13,.0314],[17,.0314],[19,.033],[22,.033],[27,.0314],[31,.0314],[37,.0324],[40,.0324],[44,.033],[46,.0324],[48,.032],[51,.032],[54,.0324],[57,.033],[64,.0346],[71,.0336],[74,.0308],[77,.03],[78,.033],[81,.0346],[61,.0314],[63,.0305],[6,.0283],[8,.0293],[14,.0283],[21,.0283],[24,.0299],[28,.0277],[33,.0277],[36,.0277],[41,.0299],[43,.0283],[47,.0283],[55,.0299],[60,.032],[64,.0283],[68,.0299],[83,.0302],[52,.0277],[7,.0252],[16,.0246],[20,.0258],[29,.0246],[37,.0246],[41,.0252],[53,.0249],[66,.0237],[85,.0258],[10,.0237],[9,.0205],[13,.0205],[19,.0174],[26,.0168],[34,.018],[23,.019],[50,.0227],[61,.0215],[43,.0215],[70,.0218],[11,.0137],[9,.0159],[31,.022],[15,.022],[12,.019],[15,.028],[17,.026],[18,.029],[19,.024],[20,.031],[21,.033],[22,.027],[23,.031],[24,.023],[25,.028],[26,.031],[27,.026],[28,.03],[30,.028],[32,.03],[42,.032],[44,.034],[45,.03],[11,.025],[12,.023],[13,.026],[16,.03],[18,.022],[20,.023],[22,.034],[23,.036],[24,.035],[26,.035],[42,.035],[43,.033]];

const rcA: P[] = [[68,.062],[15,.06],[9,.04],[19,.038],[13,.034],[21,.032],[7,.028],[16,.024],[19,.02],[37,.02],[16,.015],[41,.013],[11,.004],[19,.006],[14,.004],[12,0],[13,-.001],[16,-.004],[26,.002],[36,-.002],[46,0],[28,-.01],[14,-.011],[53,-.008],[23,-.015],[12,-.016],[21,-.017],[47,-.017],[26,-.017],[17,-.019],[10,-.023],[19,-.024],[21,-.024],[23,-.022],[65,-.023],[17,-.027],[26,-.028],[22,-.028],[78,-.028],[83,-.026],[37,-.03],[17,-.031],[41,-.031],[40,-.035],[46,-.032],[44,-.036],[30,-.034],[28,-.038],[13,-.038],[24,-.036],[29,-.041],[10,-.042],[17,-.042],[19,-.043],[22,-.042],[25,-.04],[14,-.043],[67,-.043],[33,-.043],[34,-.046],[41,-.044],[68,-.05],[15,-.049],[17,-.048],[20,-.049],[23,-.049],[81,-.053],[6,-.055],[28,-.056],[32,-.057],[52,-.058],[53,-.061],[9,-.059],[15,-.059],[10,-.063],[61,-.065],[22,-.065],[46,-.065],[25,-.065],[50,-.067],[72,-.069],[74,-.07],[76,-.067],[7,-.069],[40,-.067],[44,-.069],[48,-.071],[55,-.071],[46,-.071],[13,-.073],[23,-.073],[27,-.073],[66,-.073],[69,-.073],[19,-.076],[21,-.076],[32,-.076],[63,-.076],[14,-.079],[24,-.078],[60,-.078],[28,-.079],[40,-.078],[20,-.083],[22,-.083],[8,-.081],[10,-.081],[15,-.084],[30,-.081],[37,-.081],[38,-.079],[41,-.083],[45,-.08],[47,-.084],[54,-.084],[64,-.083],[61,-.084],[42,-.086],[44,-.086],[68,-.087],[25,-.088],[45,-.09],[61,-.09],[13,-.09],[77,-.09],[19,-.093],[40,-.096],[42,-.096],[21,-.096],[34,-.096],[54,-.096],[29,-.099],[57,-.099],[74,-.099],[75,-.099],[31,-.1],[51,-.099],[50,-.1],[5,-.1],[24,-.1],[44,-.103],[23,-.104],[14,-.104],[77,-.101],[13,-.106],[15,-.104],[60,-.105],[70,-.106],[71,-.106],[82,-.107],[12,-.108],[30,-.108],[47,-.11],[22,-.112],[21,-.113],[42,-.112],[51,-.113],[85,-.114],[4,-.116],[30,-.119],[37,-.121],[33,-.127],[43,-.128],[23,-.133],[9,-.137]];
const fA: P[] = [[20,.24],[21,.218],[68,.222],[12,.199],[19,.188],[14,.18],[52,.18],[7,.175],[43,.176],[46,.171],[12,.169],[17,.169],[22,.17],[13,.162],[28,.156],[61,.15],[36,.147],[9,.139],[10,.135],[22,.139],[21,.137],[30,.138],[30,.135],[47,.134],[16,.13],[9,.128],[78,.129],[19,.124],[16,.123],[10,.117],[41,.119],[46,.117],[65,.116],[42,.115],[25,.112],[22,.111],[20,.109],[17,.107],[26,.108],[23,.109],[19,.109],[30,.105],[41,.106],[55,.1],[51,.099],[14,.104],[13,.097],[40,.1],[39,.096],[8,.096],[15,.097],[17,.091],[47,.092],[23,.092],[32,.091],[22,.088],[46,.087],[26,.089],[67,.089],[27,.085],[28,.085],[14,.081],[20,.083],[36,.078],[67,.078],[75,.078],[26,.078],[14,.075],[10,.075],[21,.074],[22,.073],[23,.069],[12,.071],[41,.071],[43,.072],[45,.071],[60,.074],[69,.072],[74,.071],[4,.066],[23,.064],[50,.063],[33,.063],[51,.06],[53,.057],[77,.06],[57,.059],[14,.062],[16,.06],[19,.057],[26,.06],[28,.061],[24,.058],[48,.056],[41,.06],[61,.05],[63,.049],[50,.047],[6,.049],[11,.048],[14,.05],[23,.049],[37,.044],[40,.044],[42,.043],[34,.043],[66,.042],[29,.041],[68,.037],[71,.039],[13,.036],[19,.034],[34,.034],[72,.034],[82,.034],[9,.03],[15,.029],[23,.03],[41,.027],[30,.024],[55,.023],[74,.022],[85,.022],[13,.02],[20,.021],[43,.022],[32,.021],[37,.02],[53,.02],[54,.018],[60,.012],[61,.012],[7,.014],[10,.012],[45,.017],[47,.016],[32,.011],[5,.007],[42,.009],[40,.006],[38,.002],[83,.002],[25,-.001],[43,.001],[55,-.001],[44,-.008],[64,-.01],[77,-.014],[81,-.015],[77,-.021],[71,-.021],[32,-.039],[55,-.046],[64,-.058],[70,-.059],[37,-.07]];
const sA: P[] = [[47,.373],[23,.239],[22,.221],[12,.213],[55,.17],[25,.166],[28,.159],[10,.164],[13,.155],[14,.15],[19,.15],[43,.152],[16,.14],[17,.14],[20,.14],[76,.14],[42,.135],[14,.13],[21,.134],[11,.12],[17,.118],[29,.118],[74,.114],[77,.119],[13,.113],[83,.11],[23,.11],[66,.107],[25,.103],[51,.104],[34,.098],[13,.099],[15,.096],[10,.095],[6,.09],[50,.087],[14,.083],[30,.082],[72,.081],[61,.078],[9,.066],[31,.067],[21,.065],[42,.065],[45,.069],[28,.068],[23,.063],[15,.055],[16,.055],[26,.054],[68,.054],[47,.051],[23,.046],[28,.044],[21,.039],[44,.035],[26,.034],[38,.036],[20,.03],[37,.029],[32,.021],[44,.017],[75,.016],[4,.015],[5,.015],[22,.015],[13,.008],[57,.009],[68,.008],[7,.003],[8,-.001],[17,.002],[22,.002],[28,0],[53,0],[55,.004],[14,-.003],[41,-.002],[37,-.006],[46,-.005],[71,-.006],[9,-.01],[33,-.009],[65,-.009],[22,-.011],[47,-.013],[31,-.013],[64,-.015],[82,-.015],[53,-.018],[37,-.018],[67,-.022],[9,-.021],[30,-.022],[20,-.02],[60,-.029],[42,-.029],[46,-.03],[13,-.033],[67,-.034],[77,-.032],[12,-.037],[23,-.036],[52,-.04],[61,-.041],[37,-.044],[41,-.043],[78,-.044],[81,-.043],[85,-.045],[26,-.044],[15,-.049],[33,-.049],[46,-.052],[36,-.052],[69,-.051],[54,-.056],[13,-.057],[21,-.058],[60,-.058],[10,-.058],[25,-.059],[43,-.059],[48,-.062],[32,-.067],[40,-.069],[43,-.069],[30,-.073],[19,-.082],[19,-.087],[24,-.089],[55,-.089],[29,-.093],[14,-.094],[44,-.1],[41,-.104],[41,-.108],[14,-.106],[23,-.119],[34,-.119],[19,-.121],[17,-.132],[68,-.133],[63,-.136],[22,-.14],[17,-.159],[74,-.184]];

const fitAges = [1, 100];
const fitTier1T = [.074,.092]; const fitTier2T = [.027,.0288]; const fitTier3T = [.012,.0146]; const fitTier4T = [.0104,.0103];
const fitTier1E = [.211,.231]; const fitTier2E = [.0725,.0875]; const fitTier3E = [.025,.0345]; const fitTier4E = [.0105,.0152];
const fitTier1A = [-.052,-.082]; const fitTier2A = [.122,.032]; const fitTier3A = [.069,.055]; const fitTier4A = [.232,.079];
const fitRcT = [.111,.125]; const fitFT = [.0175,.0178]; const fitST = [.0213,.03];
const fitRcE = [.2935,.295]; const fitFE = [.061,.073]; const fitSE = [.025,.0395];
const fitRcA = [-.044,-.092]; const fitFA = [.097,.01]; const fitSA = [.027,-.023];

const ageTicks = [0, 50, 100];
const ticksT1 = [0,.02,.04,.06,.08,.1,.12,.14];
const ticksE1 = [0,.05,.1,.15,.2,.25,.3];
const ticksA1 = [-.2,-.1,0,.1,.2,.3,.4,.5];
const ticksT2 = [0,.02,.04,.06,.08,.1,.12,.14,.16,.18,.2];
const ticksE2 = [0,.05,.1,.15,.2,.25,.3,.35,.4];
const ticksA2 = [-.2,-.1,0,.1,.2,.3,.4];

const VERM = "#D55E00", ORA = "#E69F00", SKY = "#56B4E9", BLU = "#0072B2";
const fitColor: Record<string, string> = { [VERM]: "#bd8450", [ORA]: "#d4ab5e", [SKY]: "#7db8de", [BLU]: "#4f8bae" };
const FONT = "'DejaVu Sans', sans-serif";
const INK = "#262626";

type Series = { pts: P[]; fit: number[]; color: string };
const topRow = [
  { label: "T", x0: 130.5, x1: 488, lx: 30, ticks: ticksT1, dom: [0, .14], series: [
    { pts: tier1T, fit: fitTier1T, color: VERM }, { pts: tier2T, fit: fitTier2T, color: ORA }, { pts: tier3T, fit: fitTier3T, color: SKY }, { pts: tier4T, fit: fitTier4T, color: BLU } ] },
  { label: "E", x0: 656, x1: 1014.5, lx: 556, ticks: ticksE1, dom: [0, .3], series: [
    { pts: tier1E, fit: fitTier1E, color: VERM }, { pts: tier2E, fit: fitTier2E, color: ORA }, { pts: tier3E, fit: fitTier3E, color: SKY }, { pts: tier4E, fit: fitTier4E, color: BLU } ] },
  { label: "a", x0: 1182.5, x1: 1540.5, lx: 1092, ticks: ticksA1, dom: [-.2, .5], series: [
    { pts: tier1A, fit: fitTier1A, color: VERM }, { pts: tier2A, fit: fitTier2A, color: ORA }, { pts: tier3A, fit: fitTier3A, color: SKY }, { pts: tier4A, fit: fitTier4A, color: BLU } ] },
];
const botRow = [
  { label: "T", x0: 130.5, x1: 488, lx: 30, ticks: ticksT2, dom: [0, .2], series: [
    { pts: rcT, fit: fitRcT, color: VERM }, { pts: sT, fit: fitST, color: BLU }, { pts: fT, fit: fitFT, color: ORA } ] },
  { label: "E", x0: 656, x1: 1014.5, lx: 556, ticks: ticksE2, dom: [0, .4], series: [
    { pts: rcE, fit: fitRcE, color: VERM }, { pts: fE, fit: fitFE, color: ORA }, { pts: sE, fit: fitSE, color: BLU } ] },
  { label: "a", x0: 1182.5, x1: 1540.5, lx: 1092, ticks: ticksA2, dom: [-.2, .4], series: [
    { pts: sA, fit: fitSA, color: BLU }, { pts: fA, fit: fitFA, color: ORA }, { pts: rcA, fit: fitRcA, color: VERM } ] },
];

function Panel({ cfg, top, bottom }: { cfg: any; top: number; bottom: number }) {
  const x = d3.scaleLinear().domain([0, 100]).range([cfg.x0, cfg.x1]);
  const y = d3.scaleLinear().domain(cfg.dom).range([bottom, top]);
  const line = d3.line<number>().x((_, i) => x(fitAges[i])).y((d) => y(d));
  return (
    <g fontFamily={FONT} fill="#000">
      {cfg.series.map((s: Series, i: number) => (
        <g key={i} fill={s.color}>
          {s.pts.map((p, j) => <circle key={j} cx={x(p[0])} cy={y(p[1])} r={4.8} />)}
        </g>
      ))}
      {cfg.series.map((s: Series, i: number) => (
        <path key={i} d={line(s.fit) || ""} fill="none" stroke={fitColor[s.color]} strokeWidth={1.1} />
      ))}
      <path d={`M${cfg.x0},${top}V${bottom}H${cfg.x1}`} fill="none" stroke={INK} strokeWidth={1.2} />
      {cfg.ticks.map((t: number) => (
        <g key={t}>
          <line x1={cfg.x0} x2={cfg.x0 + 8} y1={y(t)} y2={y(t)} stroke={INK} strokeWidth={1} />
          <text x={cfg.x0 - 13} y={y(t) + 12} textAnchor="end" fontSize={32.5}>{d3.format("~g")(t).replace("−", "-")}</text>
        </g>
      ))}
      {ageTicks.map((t) => (
        <g key={t}>
          <line x1={x(t)} x2={x(t)} y1={bottom} y2={bottom - 8} stroke={INK} strokeWidth={1} />
          <text x={x(t)} y={bottom + 43} textAnchor="middle" fontSize={32.5}>{t}</text>
        </g>
      ))}
      <text x={(cfg.x0 + cfg.x1) / 2} y={bottom + 87} textAnchor="middle" fontSize={36}>Age</text>
      <text transform={`translate(${cfg.lx},${(top + bottom) / 2}) rotate(-90)`} textAnchor="middle" fontSize={36}>{cfg.label}</text>
    </g>
  );
}

const legend1 = [
  { name: "Tier 1", color: VERM, x1: 519, x2: 581, tx: 586 },
  { name: "Tier 2", color: ORA, x1: 681, x2: 743, tx: 750 },
  { name: "Tier 3", color: SKY, x1: 844, x2: 906, tx: 911 },
  { name: "Tier 4", color: BLU, x1: 1007, x2: 1068, tx: 1074 },
];
const legend2 = [
  { name: "RC", color: VERM, x1: 691, x2: 753, tx: 758 },
  { name: "F", color: ORA, x1: 808, x2: 870, tx: 875 },
  { name: "S", color: BLU, x1: 902, x2: 963, tx: 968 },
];

function Legend({ items, x, y, w, h, ly, by, fs }: any) {
  return (
    <g fontFamily={FONT}>
      <rect x={x} y={y} width={w} height={h} fill="#fff" stroke={INK} strokeWidth={1.2} />
      {items.map((d: any) => (
        <g key={d.name}>
          <line x1={d.x1} x2={d.x2} y1={ly} y2={ly} stroke={d.color} strokeWidth={3.4} />
          <text x={d.tx} y={by} fontSize={fs} fill="#000">{d.name}</text>
        </g>
      ))}
    </g>
  );
}

export default function App() {
  return (
    <svg width={1574} height={1891} viewBox="0 0 1574 1891" style={{ position: "absolute", left: 0, top: 0, background: "#fff" }}>
      {topRow.map((c) => <Panel key={c.label} cfg={c} top={72.5} bottom={835.5} />)}
      {botRow.map((c) => <Panel key={c.label} cfg={c} top={1029} bottom={1792} />)}
      <Legend items={legend1} x={512} y={3} w={653} h={46} ly={25.7} by={36} fs={30.5} />
      <Legend items={legend2} x={684} y={960} w={311} h={45} ly={981} by={993} fs={30.5} />
    </svg>
  );
}
